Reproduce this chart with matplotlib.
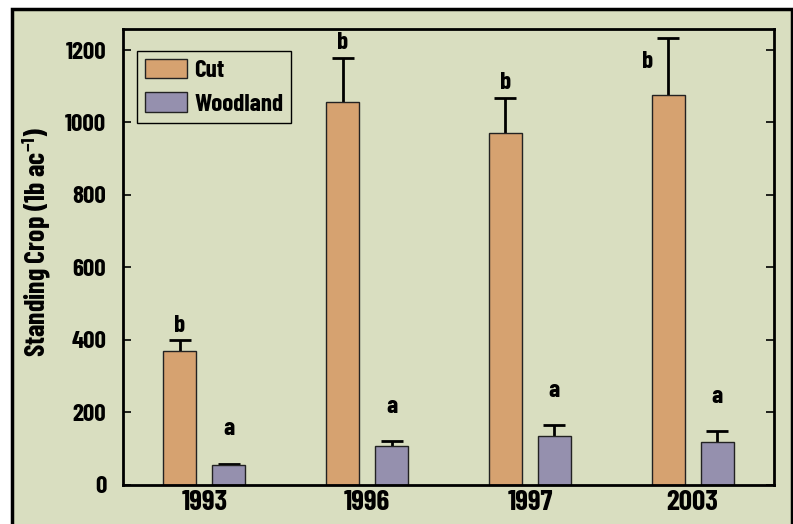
import matplotlib
matplotlib.use("Agg")
import matplotlib.pyplot as plt
import numpy as np
from matplotlib.patches import Rectangle

years = ["1993", "1996", "1997", "2003"]
cut = [368, 1057, 972, 1075]
cut_err = [30, 122, 96, 157]
wood = [54, 106, 133, 116]
wood_err = [3, 13, 30, 31]
cut_letters = ["b", "b", "b", "b"]
wood_letters = ["a", "a", "a", "a"]
yticks = [0, 200, 400, 600, 800, 1000, 1200]

FONT = ["Barlow Condensed", "DejaVu Sans"]
plt.rcParams['font.family'] = FONT
plt.rcParams['font.weight'] = 'bold'
plt.rcParams['mathtext.fontset'] = 'custom'
plt.rcParams['mathtext.rm'] = 'Barlow Condensed:bold'
plt.rcParams['mathtext.bf'] = 'Barlow Condensed:bold'
plt.rcParams['mathtext.default'] = 'bf'

BG = "#d9dec0"
CUT_C = "#d6a270"
WOOD_C = "#9590ae"

fig = plt.figure(figsize=(7.93, 5.24), dpi=100)
fig.patch.set_facecolor("white")
frame = Rectangle((11.5/793, -0.05), (791.5-11.5)/793, 1.05 - 8.5/524,
                  transform=fig.transFigure, facecolor=BG, edgecolor="black",
                  linewidth=2.5, zorder=-10)
fig.patches.append(frame)

ax = fig.add_axes([123/793, 1-484.5/524, (774-123)/793, (484.5-29)/524])
ax.set_zorder(1)
ax.set_facecolor(BG)

x = np.arange(len(years))
w = 0.203
off = 0.15
ax.bar(x - off, cut, w, color=CUT_C, edgecolor="#222222", linewidth=1.0,
       label="Cut", zorder=2)
ax.bar(x + off, wood, w, color=WOOD_C, edgecolor="#222222", linewidth=1.0,
       label="Woodland", zorder=2)
for xs, vals, errs in [(x - off, cut, cut_err), (x + off, wood, wood_err)]:
    eb = ax.errorbar(xs, vals, yerr=[np.zeros(len(vals)), errs], fmt="none",
                     ecolor="black", elinewidth=2, capthick=2, capsize=8, zorder=1)
    caps = eb[1]
    if len(caps) == 2:
        caps[0].set_visible(False)

for i in range(len(years)):
    top = cut[i] + cut_err[i]
    if i == 3:
        ax.text(x[i] - off - 0.125, top - 65, cut_letters[i], ha="center", va="center",
                fontsize=18, fontweight="bold")
    else:
        ax.text(x[i] - off, top + 40, cut_letters[i], ha="center", va="center",
                fontsize=18, fontweight="bold")
    wtop = wood[i] + wood_err[i]
    ax.text(x[i] + off, wtop + 95, wood_letters[i], ha="center", va="center",
            fontsize=18, fontweight="bold")

ax.set_xlim(-0.5, 3.5)
ax.set_ylim(0, 1258)
ax.set_xticks(x)
ax.set_xticklabels(years, fontsize=21, fontweight="bold")
ax.set_yticks(yticks)
ax.set_yticklabels([str(t) for t in yticks], fontsize=18, fontweight="bold")
ax.tick_params(axis="x", length=0, pad=4)
ax.tick_params(axis="y", direction="in", length=6, width=1.2, right=True, pad=12)
for s in ax.spines.values():
    s.set_linewidth(2)
ax.set_ylabel("Standing Crop (1b ac$^{-1}$)", fontsize=20, fontweight="bold")
ax.yaxis.set_label_coords(-0.108, 0.532)

leg = ax.legend(loc="upper left", bbox_to_anchor=(14/651, 1-22/455.5), fontsize=18,
                frameon=True, fancybox=False, edgecolor="black", facecolor=BG,
                handlelength=1.7, handleheight=0.85, borderpad=0.3, labelspacing=0.4,
                handletextpad=0.3, borderaxespad=0)
leg.get_frame().set_linewidth(1.0)
leg.get_frame().set_alpha(1)
for t in leg.get_texts():
    t.set_fontweight("bold")

fig.savefig("out.png", dpi=100, facecolor=fig.get_facecolor())
